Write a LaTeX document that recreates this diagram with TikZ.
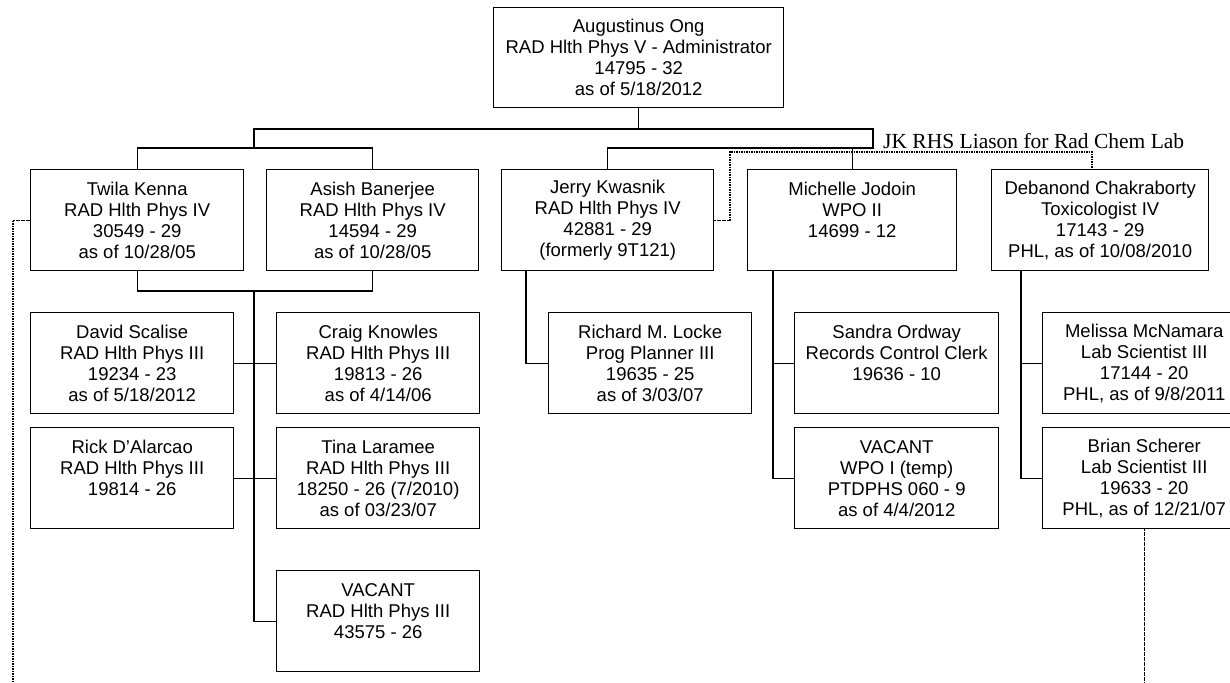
\documentclass[tikz,border=0pt]{standalone}
\usepackage{fontspec}
\setmainfont{Liberation Sans}
\newfontfamily\notefont{Liberation Serif}
\usetikzlibrary{positioning}

\begin{document}
\begin{tikzpicture}[x=1pt,y=-1pt,
    unit/.style={draw, line width=1.4pt, align=center, anchor=north west, inner sep=0pt,
      minimum height=101pt, font=\fontsize{18.5}{21}\selectfont},
    row/.style={unit, minimum width=213pt},
    sub/.style={unit, minimum width=203pt},
    link/.style={line width=1.3pt},
    liason/.style={line width=1.3pt, dash pattern=on 1.6pt off 0.9pt}]
  \useasboundingbox (0,0) rectangle (1230,682);
  \clip (0,0) rectangle (1230,682);

  % administrator
  \node[unit, minimum width=290pt, minimum height=100pt] (ong) at (493,7)
    {Augustinus Ong\\RAD Hlth Phys V - Administrator\\14795 - 32\\as of 5/18/2012};

  % first level
  \node[row] (twila) at (30,169) {Twila Kenna\\RAD Hlth Phys IV\\30549 - 29\\as of 10/28/05};
  \node[row, minimum width=212pt] (asish) at (266,169) {Asish Banerjee\\RAD Hlth Phys IV\\14594 - 29\\as of 10/28/05};
  \node[row, minimum width=212pt] (jerry) at (501,169) {Jerry Kwasnik\\RAD Hlth Phys IV\\42881 - 29\\(formerly 9T121)};
  \node[row, minimum width=209pt] (michelle) at (747,169) {Michelle Jodoin\\WPO II\\14699 - 12\\~};
  \node[row, minimum width=217pt] (debanond) at (991,169) {Debanond Chakraborty\\Toxicologist IV\\17143 - 29\\PHL, as of 10/08/2010};

  % second level
  \node[sub] (david) at (30,312) {David Scalise\\RAD Hlth Phys III\\19234 - 23\\as of 5/18/2012};
  \node[sub] (craig) at (276,312) {Craig Knowles\\RAD Hlth Phys III\\19813 - 26\\as of 4/14/06};
  \node[sub] (rick) at (30,427) {Rick D'Alarcao\\RAD Hlth Phys III\\19814 - 26\\~};
  \node[sub] (tina) at (276,427) {Tina Laramee\\RAD Hlth Phys III\\18250 - 26 (7/2010)\\as of 03/23/07};
  \node[sub] (vacrad) at (276,570) {VACANT\\RAD Hlth Phys III\\43575 - 26\\~};
  \node[sub] (locke) at (548,312) {Richard M. Locke\\Prog Planner III\\19635 - 25\\as of 3/03/07};
  \node[sub, minimum width=204pt] (sandra) at (794,312) {Sandra Ordway\\Records Control Clerk\\19636 - 10\\~};
  \node[sub, minimum width=204pt] (vacwpo) at (794,427) {VACANT\\WPO I (temp)\\PTDPHS 060 - 9\\as of 4/4/2012};
  \node[sub] (melissa) at (1042,312) {Melissa McNamara\\Lab Scientist III\\17144 - 20\\PHL, as of 9/8/2011};
  \node[sub] (brian) at (1042,427) {Brian Scherer\\Lab Scientist III\\19633 - 20\\PHL, as of 12/21/07};

  \node[anchor=base west, inner sep=0pt, font=\notefont\fontsize{21.5}{24}\selectfont] (liasontext) at (883,148)
    {JK RHS Liason for Rad Chem Lab};

  % bus coordinates
  \coordinate (busA) at (254,129);
  \coordinate (busB) at (873,129);
  \coordinate (busC) at (873,148);
  \coordinate (pairtop) at (254,148);
  \coordinate (pairbot) at (254,291);
  \coordinate (offpage) at (13,682);
  \coordinate (liaA) at (730,152);

  % solid reporting lines
  \draw[link] (ong.south) -- (ong.south |- busA);
  \draw[link] (pairtop) -- (busA) -- (busB) -- (busC) -| (jerry.north);
  \draw[link] (michelle.north) -- (michelle.north |- busC);
  \draw[link] (twila.north) |- (pairtop) -| (asish.north);
  \draw[link] (twila.south) |- (pairbot) -| (asish.south);
  \draw[link] (pairbot) |- (vacrad.west);
  \draw[link] (david.east) -- (craig.west);
  \draw[link] (rick.east) -- (tina.west);
  \draw[link] ([xshift=25pt]jerry.south west) |- (locke.west);
  \draw[link] ([xshift=26pt]michelle.south west) |- (sandra.west);
  \draw[link] ([xshift=26pt]michelle.south west) |- (vacwpo.west);
  \draw[link] ([xshift=30pt]debanond.south west) |- (melissa.west);
  \draw[link] ([xshift=30pt]debanond.south west) |- (brian.west);

  % dotted lines
  \draw[liason] (twila.west) -| (offpage);
  \draw[liason] (brian.south) -- (brian.south |- offpage);
  \draw[liason] (jerry.east) -| (liaA) -| ([xshift=101pt]debanond.north west);
\end{tikzpicture}
\end{document}
